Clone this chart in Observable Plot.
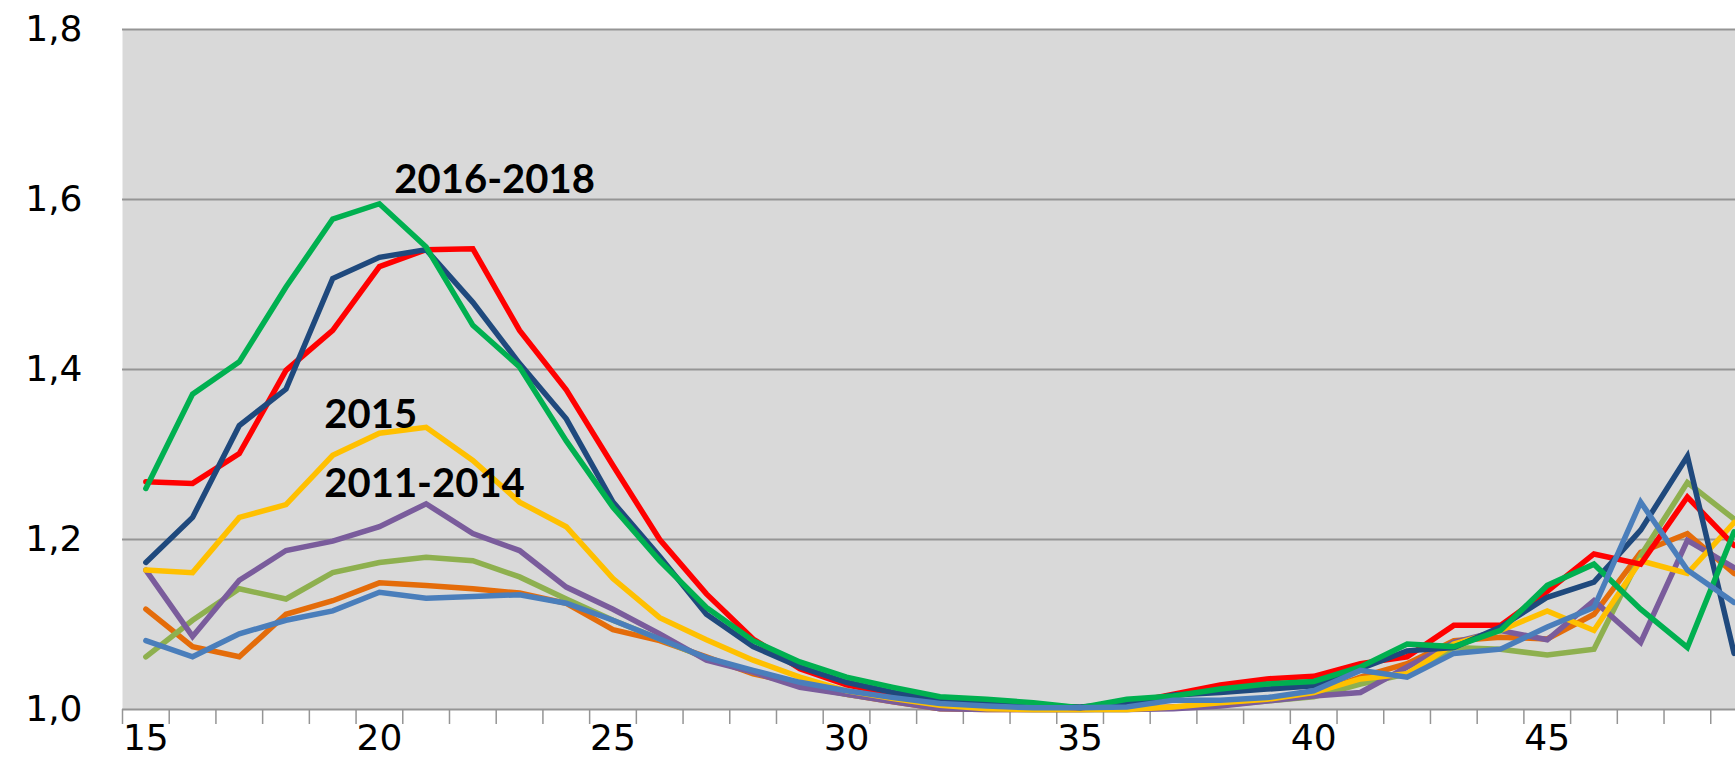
<!DOCTYPE html>
<html>
<head>
<meta charset="utf-8">
<script src="https://cdn.jsdelivr.net/npm/d3@7"></script>
<script src="https://cdn.jsdelivr.net/npm/@observablehq/plot@0.6"></script>
<style>
  html, body { margin: 0; padding: 0; background: #ffffff; }
  #chart svg { display: block; }
</style>
</head>
<body>
<div id="chart"></div>
<script>
// Age (x categories)
const ages = [15,16,17,18,19,20,21,22,23,24,25,26,27,28,29,30,31,32,33,34,35,36,37,38,39,40,41,42,43,44,45,46,47,48,49];

// Series values
const s2011 = [1.081,1.062,1.089,1.105,1.116,1.138,1.131,1.133,1.135,1.125,1.105,1.083,1.061,1.046,1.032,1.022,1.014,1.007,1.004,1.002,1.002,1.003,1.011,1.011,1.014,1.022,1.046,1.038,1.066,1.071,1.097,1.120,1.244,1.164,1.126];
const s2012 = [1.118,1.074,1.062,1.112,1.128,1.149,1.146,1.142,1.137,1.125,1.094,1.081,1.062,1.042,1.030,1.018,1.009,1.001,1.000,1.000,1.000,1.001,1.003,1.005,1.011,1.018,1.038,1.054,1.081,1.085,1.083,1.112,1.185,1.207,1.160];
const s2013 = [1.062,1.105,1.142,1.130,1.161,1.173,1.179,1.175,1.156,1.130,1.105,1.083,1.060,1.044,1.028,1.018,1.010,1.004,1.001,1.000,1.000,1.000,1.002,1.005,1.010,1.015,1.030,1.042,1.073,1.071,1.064,1.071,1.181,1.267,1.224];
const s2014 = [1.164,1.086,1.152,1.187,1.198,1.215,1.242,1.207,1.187,1.144,1.118,1.089,1.058,1.044,1.026,1.018,1.009,1.001,1.000,1.000,1.000,1.000,1.001,1.004,1.010,1.016,1.020,1.050,1.079,1.093,1.082,1.128,1.079,1.199,1.167];
const s2015 = [1.164,1.161,1.226,1.241,1.299,1.325,1.332,1.293,1.244,1.215,1.154,1.108,1.082,1.058,1.038,1.022,1.013,1.005,1.001,1.000,1.000,1.000,1.003,1.008,1.012,1.020,1.036,1.042,1.077,1.093,1.116,1.093,1.175,1.160,1.220];
const s2016 = [1.173,1.226,1.334,1.377,1.507,1.532,1.541,1.479,1.407,1.342,1.244,1.180,1.112,1.074,1.050,1.032,1.020,1.011,1.007,1.004,1.003,1.007,1.017,1.020,1.024,1.028,1.048,1.069,1.073,1.097,1.132,1.150,1.211,1.298,1.066];
const s2017 = [1.268,1.266,1.301,1.399,1.446,1.521,1.541,1.542,1.446,1.376,1.287,1.200,1.136,1.083,1.048,1.029,1.018,1.011,1.007,1.004,1.002,1.007,1.018,1.029,1.036,1.039,1.054,1.062,1.099,1.099,1.139,1.183,1.171,1.250,1.193];
const s2018 = [1.260,1.371,1.409,1.497,1.577,1.595,1.544,1.452,1.403,1.316,1.238,1.175,1.120,1.081,1.056,1.038,1.026,1.015,1.012,1.008,1.002,1.012,1.016,1.024,1.030,1.033,1.050,1.077,1.074,1.093,1.146,1.171,1.118,1.073,1.209];

// Draw order (bottom to top) and colours
const seriesNames  = ["2012", "2013", "2014", "2015", "2017", "2016", "2018", "2011"];
const seriesValues = [s2012, s2013, s2014, s2015, s2017, s2016, s2018, s2011];
const seriesColors = ["#e46c0a", "#8eb04f", "#7a5c9c", "#ffc000", "#ff0000", "#1f497d", "#00b050", "#4a7ebb"];

// Axis ticks
const yTicks = [1.0, 1.2, 1.4, 1.6, 1.8];
const xTickLabels = [15, 20, 25, 30, 35, 40, 45];
const xBoundaries = d3.range(14.5, 49.5, 1);

// Annotations (text and anchor in data units)
const annotTexts = ["2016-2018", "2015", "2011-2014"];
const annotAge   = [20.32, 18.82, 18.82];
const annotValue = [1.6233, 1.3468, 1.2656];

const rows = seriesNames.map((name, k) =>
  ages.map((a, i) => ({age: a, value: seriesValues[k][i], series: name}))
);

const plot = Plot.plot({
  width: 1735,
  height: 782,
  marginLeft: 122,
  marginRight: 0,
  marginTop: 29,
  marginBottom: 73,
  x: {domain: [14.5, 49.03]},
  y: {domain: [1.0, 1.8]},
  style: {fontFamily: "'DejaVu Sans', Verdana, sans-serif", fontSize: "36px", color: "#000", background: "#fff"},
  marks: [
    Plot.frame({fill: "#d9d9d9", stroke: null}),
    Plot.ruleY(yTicks, {stroke: "#959595", strokeWidth: 2}),
    Plot.axisY(yTicks, {tickSize: 0, tickPadding: 40, label: null, fontSize: 36,
      tickFormat: d => d.toFixed(1).replace(".", ",")}),
    Plot.axisX(xBoundaries, {tickSize: 15, tickFormat: () => "", label: null, stroke: "#959595", strokeWidth: 1.5}),
    Plot.axisX(xTickLabels, {tickSize: 0, tickPadding: 15, label: null, fontSize: 36}),
    ...rows.map((data, k) => Plot.line(data, {
      x: "age", y: "value", stroke: seriesColors[k], strokeWidth: 5.5,
      strokeLinejoin: "miter", strokeMiterlimit: 4
    })),
    Plot.text(annotTexts, {
      x: annotAge, y: annotValue, text: d => d, textAnchor: "start",
      fontFamily: "Lato, 'Open Sans', sans-serif", fontWeight: "bold", fontSize: 40, fill: "#000"
    })
  ]
});

document.getElementById("chart").appendChild(plot);
</script>
</body>
</html>
